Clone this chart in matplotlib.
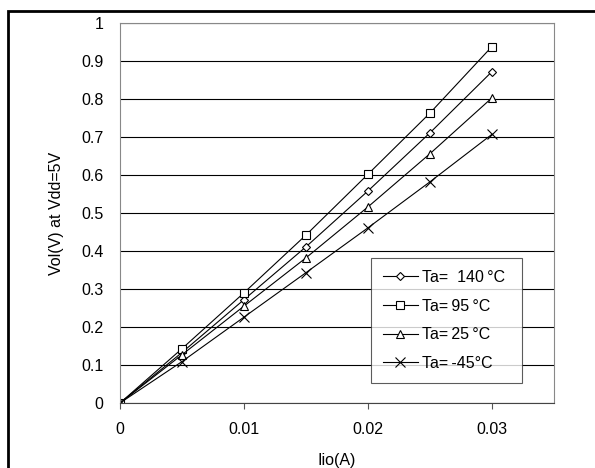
import matplotlib.pyplot as plt
from matplotlib.patches import Rectangle

plt.rcParams['font.family'] = ['Liberation Sans', 'DejaVu Sans']

# Current (A) and output low voltage for each ambient temperature
iio = [0, 0.005, 0.01, 0.015, 0.02, 0.025, 0.03]
vol_140 = [0, 0.133, 0.272, 0.411, 0.558, 0.711, 0.872]
vol_95 = [0, 0.143, 0.290, 0.442, 0.602, 0.763, 0.938]
vol_25 = [0, 0.127, 0.255, 0.382, 0.516, 0.656, 0.803]
vol_m45 = [0, 0.109, 0.226, 0.343, 0.461, 0.582, 0.707]
labels = ['Ta=  140\u2009\u00b0C', 'Ta=\u200995\u2009\u00b0C', 'Ta=\u200925\u2009\u00b0C',
          'Ta=\u2009-45\u00b0C']

fs = 11.5
fig = plt.figure(figsize=(5.95, 4.68), dpi=100)
ax = fig.add_axes([0.2017, 0.1389, 0.7293, 0.812])

series = [vol_140, vol_95, vol_25, vol_m45]
markers = ['D', 's', '^', 'x']
msizes = [4, 5.5, 6, 7]
for ys, m, ms, lab in zip(series, markers, msizes, labels):
    ax.plot(iio, ys, color='black', lw=0.8, marker=m, ms=ms,
            mfc='white' if m != 'x' else 'black', mec='black', mew=0.8,
            label=lab)

ax.set_xlim(0, 0.035)
ax.set_ylim(0, 1)
ax.set_xticks([0, 0.01, 0.02, 0.03])
ax.set_xticklabels(['0', '0.01', '0.02', '0.03'])
ax.set_yticks([i / 10 for i in range(11)])
ax.set_yticklabels(['0'] + ['%.1f' % (i / 10) for i in range(1, 10)] + ['1'])
ax.yaxis.grid(True, color='black', lw=0.8)
ax.set_axisbelow(True)
ax.tick_params(axis='y', length=0, pad=12, labelsize=fs)
ax.tick_params(axis='x', length=4, direction='out', pad=10, labelsize=fs,
               color='#555555')
for s in ['left', 'top', 'right']:
    ax.spines[s].set_color('#888888')
ax.spines['bottom'].set_color('#444444')

ax.set_ylabel('Vol(V) at Vdd=5V', fontsize=fs, labelpad=12)
ax.set_xlabel('Iio(A)', fontsize=fs, labelpad=11)

leg = ax.legend(loc='upper left', bbox_to_anchor=(0.578, 0.3816, 0.348, 0.0),
                mode='expand', fontsize=fs, frameon=True, fancybox=False,
                handlelength=2.2, labelspacing=0.85,
                borderpad=0.75, handletextpad=0.25, borderaxespad=0)
leg.get_frame().set_linewidth(0.8)
leg.get_frame().set_edgecolor('#333333')

# outer border (top and left visible)
fig.patches.append(Rectangle((0.0135, -0.1), 1.2, 1.077, transform=fig.transFigure,
                             fill=False, lw=2, edgecolor='black'))

fig.savefig('out.png', dpi=100)
